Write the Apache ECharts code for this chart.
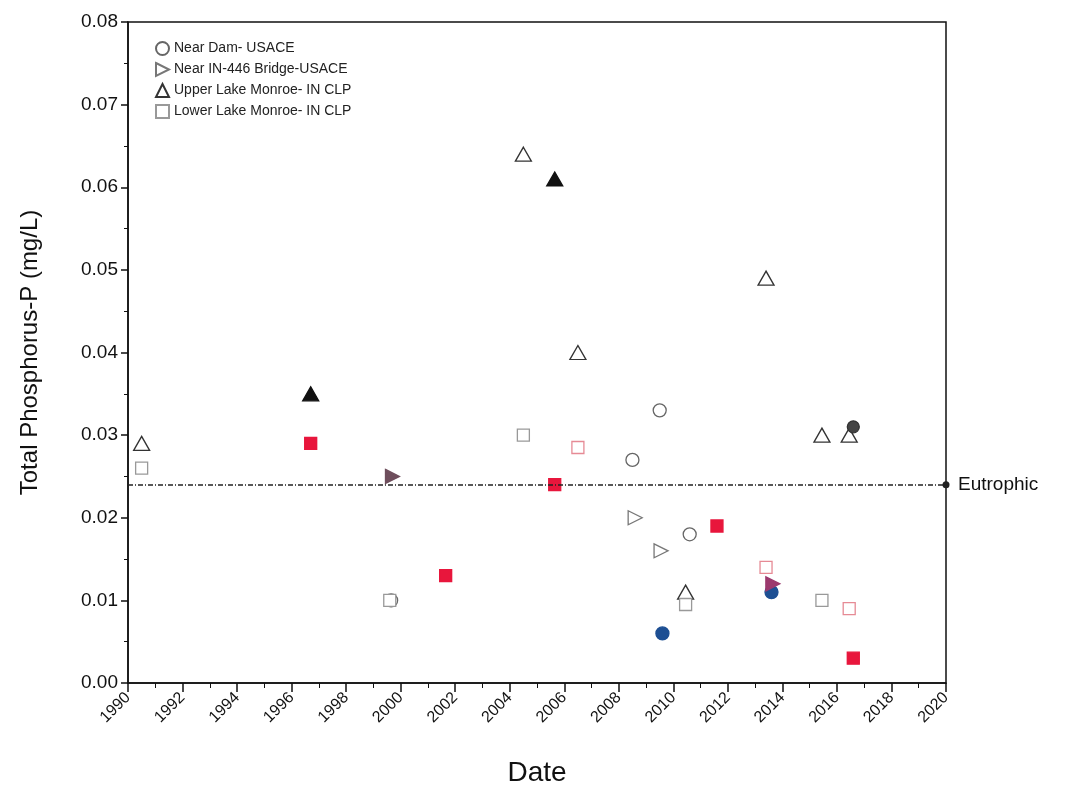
<!DOCTYPE html>
<html lang="en">
<head>
    <meta charset="UTF-8">
    <title>Total Phosphorus</title>
    <style>
        html, body { margin: 0; padding: 0; background: #fff; }
        #chart { width: 1089px; height: 804px; }
    </style>
</head>
<body>
    <div id="chart"></div>
    <script src="https://cdn.jsdelivr.net/npm/echarts@6/dist/echarts.min.js"></script>
    <script>
        // data: [year, TP mg/L]
        var damOpen = [[2009.5, 0.033], [2008.5, 0.027], [2010.6, 0.018], [1999.65, 0.010]];
        var damBlue = [[2009.6, 0.006], [2013.6, 0.011]];
        var damDark = [[2016.6, 0.031]];
        var bridgeOpen = [[2008.6, 0.020], [2009.55, 0.016]];
        var bridgeDark = [[1999.7, 0.025]];
        var bridgePurple = [[2013.65, 0.012]];
        var upperOpen = [[1990.5, 0.029], [2004.5, 0.064], [2006.5, 0.040], [2013.4, 0.049], [2015.45, 0.030], [2016.45, 0.030], [2010.45, 0.011]];
        var upperFilled = [[1996.7, 0.035], [2005.65, 0.061]];
        var lowerOpen = [[1990.5, 0.026], [1999.6, 0.010], [2010.45, 0.0095], [2015.45, 0.010], [2004.5, 0.030]];
        var lowerPink = [[2013.4, 0.014], [2016.45, 0.009], [2006.5, 0.0285]];
        var lowerRed = [[1996.7, 0.029], [2001.65, 0.013], [2005.65, 0.024], [2011.6, 0.019], [2016.6, 0.003]];
        var eutrophic = 0.024;

        var names = ['Near Dam- USACE', 'Near IN-446 Bridge-USACE', 'Upper Lake Monroe- IN CLP', 'Lower Lake Monroe- IN CLP'];
        var rightTri = 'path://M0,0 L10,5 L0,10 Z';
        var font = 'Liberation Sans, Arial, sans-serif';

        var myChart = echarts.init(document.getElementById('chart'));

        function sc(name, data, symbol, size, fill, border) {
            return {
                name: name,
                type: 'scatter',
                data: data,
                symbol: symbol,
                symbolSize: size,
                itemStyle: { color: fill, borderColor: border, borderWidth: 1.3, opacity: 1 }
            };
        }

        var series = [
            sc(names[0], damOpen, 'circle', 13, '#fff', '#666'),
            sc(names[1], bridgeOpen, rightTri, [14, 14], '#fff', '#777'),
            sc(names[2], upperOpen, 'triangle', [16, 14], '#fff', '#333'),
            sc(names[3], lowerOpen, 'rect', 12, '#fff', '#999'),
            sc(names[3], lowerPink, 'rect', 12, '#fff', '#e68a95'),
            sc(names[2], upperFilled, 'triangle', [16, 14], '#111', '#111'),
            sc(names[3], lowerRed, 'rect', 12, '#e8163c', '#e8163c'),
            sc(names[0], damBlue, 'circle', 13, '#1d4f93', '#1d4f93'),
            sc(names[0], damDark, 'circle', 12, '#444', '#333'),
            sc(names[1], bridgeDark, rightTri, [14, 14], '#6e4e5c', '#6e4e5c'),
            sc(names[1], bridgePurple, rightTri, [14, 14], '#9c3a6e', '#9c3a6e')
        ];

        // eutrophic threshold line, hung on the first series
        // precision defaults to 2 and would round 0.024 down to 0.02
        series[0].markLine = {
            silent: true,
            precision: 4,
            symbol: ['none', 'circle'],
            symbolSize: 7,
            animation: false,
            lineStyle: { color: '#222', type: [5, 2, 1, 2], width: 1.5 },
            label: {
                show: true,
                position: 'end',
                formatter: 'Eutrophic',
                color: '#111',
                fontSize: 19,
                fontFamily: font,
                distance: 12
            },
            data: [{ yAxis: eutrophic }]
        };

        var option = {
            animation: false,
            grid: {
                left: 128, right: 143, top: 22, bottom: 121,
                show: true, borderColor: '#111', borderWidth: 1.5
            },
            legend: {
                data: names,
                orient: 'vertical',
                left: 150,
                top: 36,
                itemGap: 6,
                itemWidth: 13,
                itemHeight: 13,
                textStyle: { fontSize: 14, fontFamily: font, color: '#222' }
            },
            xAxis: {
                type: 'value',
                min: 1990,
                max: 2020,
                interval: 2,
                name: 'Date',
                nameLocation: 'middle',
                nameGap: 76,
                nameTextStyle: { fontSize: 28, fontFamily: font, color: '#111' },
                axisLine: { lineStyle: { color: '#111', width: 1.5 } },
                axisTick: { length: 9, lineStyle: { color: '#111', width: 1.5 } },
                minorTick: { show: true, splitNumber: 2, length: 5, lineStyle: { color: '#111' } },
                splitLine: { show: false },
                axisLabel: {
                    rotate: 45,
                    fontSize: 16,
                    fontFamily: font,
                    color: '#111',
                    margin: 12,
                    formatter: function (v) { return String(v); }
                }
            },
            yAxis: {
                type: 'value',
                min: 0,
                max: 0.08,
                interval: 0.01,
                name: 'Total Phosphorus-P (mg/L)',
                nameLocation: 'middle',
                nameGap: 86,
                nameTextStyle: { fontSize: 24, fontFamily: font, color: '#111' },
                axisLine: { show: true, lineStyle: { color: '#111', width: 1.5 } },
                axisTick: { show: true, length: 7, lineStyle: { color: '#111', width: 1.5 } },
                minorTick: { show: true, splitNumber: 2, length: 4, lineStyle: { color: '#111' } },
                splitLine: { show: false },
                axisLabel: {
                    fontSize: 19,
                    fontFamily: font,
                    color: '#111',
                    margin: 10,
                    formatter: function (v) { return v.toFixed(2); }
                }
            },
            series: series
        };

        myChart.setOption(option);
    </script>
</body>
</html>
